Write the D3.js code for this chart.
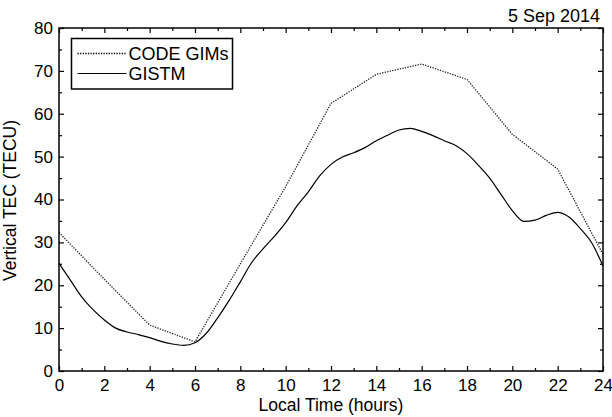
<!DOCTYPE html>
<html>
<head>
<meta charset="utf-8">
<script src="https://cdn.jsdelivr.net/npm/d3@7"></script>
<style>
  body { margin: 0; background: #fff; }
  svg { display: block; font-family: "Liberation Sans", Arial, sans-serif; }
  .axis path { display: none; }
  .axis line { stroke: #000; stroke-width: 1.2; }
  .axis text { font-size: 17px; fill: #000; }
</style>
</head>
<body>
<svg id="chart" width="612" height="417"></svg>
<script>
// CODE GIMs, every 2 hours
const codeHours = [0, 2, 4, 6, 8, 10, 12, 14, 16, 18, 20, 22, 24];
const codeTec = [32.3, 21.4, 10.7, 6.8, 25.0, 43.0, 62.4, 69.2, 71.6, 68.0, 55.2, 47.1, 27.2];

// GISTM, every half hour
const gistmHours = [0, 0.5, 1, 1.5, 2, 2.5, 3, 3.5, 4, 4.5, 5, 5.5, 6, 6.5, 7, 7.5, 8, 8.5,
  9, 9.5, 10, 10.5, 11, 11.5, 12, 12.5, 13, 13.5, 14, 14.5, 15, 15.5, 16, 16.5, 17, 17.5,
  18, 18.5, 19, 19.5, 20, 20.5, 21, 21.5, 22, 22.5, 23, 23.5, 24];
const gistmTec = [25.1, 21.2, 17.3, 14.3, 11.9, 10.0, 9.1, 8.5, 7.8, 6.9, 6.3, 6.0, 6.6, 8.8,
  12.4, 16.4, 20.8, 25.3, 28.5, 31.4, 34.6, 38.5, 41.8, 45.5, 48.2, 49.9, 50.9, 52.1, 53.7,
  55.0, 56.2, 56.6, 55.9, 54.9, 53.7, 52.6, 50.7, 48.0, 45.0, 41.2, 37.4, 34.9, 35.2, 36.3,
  37.0, 35.9, 33.2, 29.9, 24.5];

const xTicks = [0, 2, 4, 6, 8, 10, 12, 14, 16, 18, 20, 22, 24];
const xMinor = [1, 3, 5, 7, 9, 11, 13, 15, 17, 19, 21, 23];
const yTicks = [0, 10, 20, 30, 40, 50, 60, 70, 80];
const yMinor = [5, 15, 25, 35, 45, 55, 65, 75];

const seriesNames = ["CODE GIMs", "GISTM"];
const title = "5 Sep 2014";

const margin = {top: 28, right: 9, bottom: 46, left: 59},
  width = 612 - margin.left - margin.right,
  height = 417 - margin.top - margin.bottom;

const svg = d3.select("#chart");
const g = svg.append("g")
  .attr("transform", `translate(${margin.left},${margin.top})`);

const x = d3.scaleLinear().domain([0, 24]).range([0, width]);
const y = d3.scaleLinear().domain([0, 80]).range([height, 0]);

// axes, ticks pointing inward
g.append("g").attr("class", "axis")
  .attr("transform", `translate(0,${height})`)
  .call(d3.axisBottom(x).tickValues(xTicks).tickSize(-5).tickPadding(8).tickFormat(d3.format("d")));
g.append("g").attr("class", "axis")
  .attr("transform", `translate(0,${height})`)
  .call(d3.axisBottom(x).tickValues(xMinor).tickSize(-3).tickFormat(""));
g.append("g").attr("class", "axis")
  .call(d3.axisTop(x).tickValues(xTicks).tickSize(-5).tickFormat(""));
g.append("g").attr("class", "axis")
  .call(d3.axisTop(x).tickValues(xMinor).tickSize(-3).tickFormat(""));

g.append("g").attr("class", "axis")
  .call(d3.axisLeft(y).tickValues(yTicks).tickSize(-5).tickPadding(6).tickFormat(d3.format("d")));
g.append("g").attr("class", "axis")
  .call(d3.axisLeft(y).tickValues(yMinor).tickSize(-3).tickFormat(""));
g.append("g").attr("class", "axis")
  .attr("transform", `translate(${width},0)`)
  .call(d3.axisRight(y).tickValues(yTicks).tickSize(-5).tickFormat(""));
g.append("g").attr("class", "axis")
  .attr("transform", `translate(${width},0)`)
  .call(d3.axisRight(y).tickValues(yMinor).tickSize(-3).tickFormat(""));

// lines
const codeLine = d3.line()
  .x((d, i) => x(codeHours[i]))
  .y(d => y(d));
g.append("path")
  .datum(codeTec)
  .attr("fill", "none")
  .attr("stroke", "#222")
  .attr("stroke-width", 1.3)
  .attr("stroke-dasharray", "1.3,1.3")
  .attr("d", codeLine);

const gistmLine = d3.line()
  .x((d, i) => x(gistmHours[i]))
  .y(d => y(d))
  .curve(d3.curveMonotoneX);
g.append("path")
  .datum(gistmTec)
  .attr("fill", "none")
  .attr("stroke", "#000")
  .attr("stroke-width", 1.2)
  .attr("d", gistmLine);

// frame
g.append("rect")
  .attr("width", width)
  .attr("height", height)
  .attr("fill", "none")
  .attr("stroke", "#000")
  .attr("stroke-width", 1.5);

// legend
const legend = g.append("g").attr("transform", "translate(12.5,10.5)");
legend.append("rect")
  .attr("width", 161)
  .attr("height", 50.5)
  .attr("fill", "#fff")
  .attr("stroke", "#000")
  .attr("stroke-width", 1.5);
seriesNames.forEach((name, i) => {
  const ly = 15 + i * 20;
  legend.append("line")
    .attr("x1", 6).attr("x2", 55)
    .attr("y1", ly).attr("y2", ly)
    .attr("stroke", "#000")
    .attr("stroke-width", i === 0 ? 1.3 : 1.2)
    .attr("stroke-dasharray", i === 0 ? "1.3,1.3" : null);
  legend.append("text")
    .attr("x", 57)
    .attr("y", ly + 6)
    .attr("font-size", "18px")
    .text(name);
});

// title and labels
svg.append("text")
  .attr("x", margin.left + width - 3)
  .attr("y", 22)
  .attr("text-anchor", "end")
  .attr("font-size", "18px")
  .text(title);

svg.append("text")
  .attr("x", margin.left + width / 2)
  .attr("y", 411)
  .attr("text-anchor", "middle")
  .attr("font-size", "17.5px")
  .text("Local Time (hours)");

svg.append("text")
  .attr("transform", `translate(16,${margin.top + height / 2 + 1}) rotate(-90)`)
  .attr("text-anchor", "middle")
  .attr("font-size", "17.5px")
  .text("Vertical TEC (TECU)");
</script>
</body>
</html>
